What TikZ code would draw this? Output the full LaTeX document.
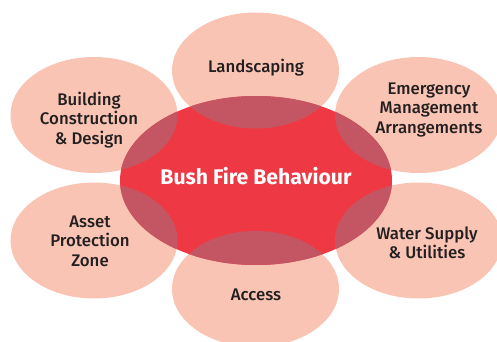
\documentclass[tikz,border=0pt]{standalone}
\usepackage{fontspec}
\setmainfont{Fira Sans}
\newfontfamily\lblfont{Fira Sans Medium}
\newfontfamily\titlefont{Fira Sans Bold}
\definecolor{salmon}{HTML}{F9C4B4}
\definecolor{firered}{HTML}{EE3944}
\definecolor{overlapc}{HTML}{C45663}
\definecolor{labelc}{HTML}{231F20}
\tikzset{
  lbl/.style={text=labelc, font=\lblfont\fontsize{16.8}{19.5}\selectfont, align=center, inner sep=0pt},
  title/.style={text=white, font=\titlefont\fontsize{21.2}{24}\selectfont, inner sep=0pt},
  petal/.style={fill=salmon},
  overlap/.style={fill=overlapc},
}
\begin{document}
\begin{tikzpicture}[x=1pt,y=-1pt]
\useasboundingbox (0,0) rectangle (497,342);
\clip (0,0) rectangle (497,342);
\def\outers{255.5/70.5, 94/115, 418.5/115, 94/240.5, 418.5/240.5, 255.5/289}
\foreach \px/\py in \outers {\fill[petal] (\px,\py) ellipse [x radius=83.5, y radius=58];}
\fill[firered] (256,180.5) ellipse [x radius=136, y radius=84.5];
\begin{scope}
  \clip (256,180.5) ellipse [x radius=136, y radius=84.5];
  \foreach \px/\py in \outers {\fill[overlap] (\px,\py) ellipse [x radius=83.5, y radius=58];}
\end{scope}
\node[title] (center) at (256,176) {Bush Fire Behaviour};
\node[lbl] (land) at (256,68) {Landscaping};
\node[lbl] (build) at (89,120) {Building\\Construction\\\& Design};
\node[lbl] (emerg) at (429,110) {Emergency\\Management\\Arrangements};
\node[lbl] (asset) at (90,241) {Asset\\Protection\\Zone};
\node[lbl] (water) at (427,243) {Water Supply\\\& Utilities};
\node[lbl] (access) at (256,295) {Access};
\end{tikzpicture}
\end{document}
